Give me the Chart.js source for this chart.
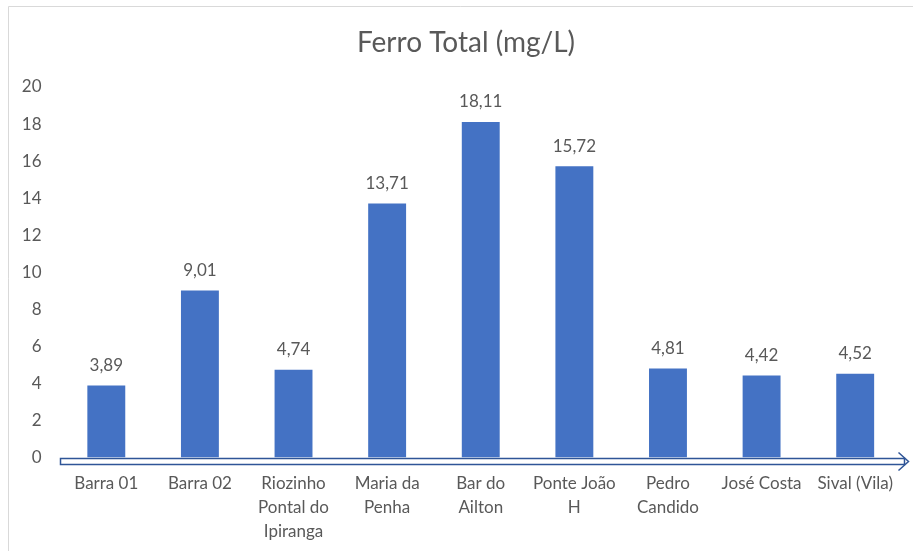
<!DOCTYPE html>
<html>
<head>
<meta charset="utf-8">
<script src="https://cdn.jsdelivr.net/npm/chart.js@4"></script>
<style>
  body { margin: 0; background: #fff; }
  canvas { display: block; }
</style>
</head>
<body>
<canvas id="ferroChart" width="913" height="551"></canvas>
<script>
const categories = [
  "Barra 01",
  "Barra 02",
  ["Riozinho", "Pontal do", "Ipiranga"],
  ["Maria da", "Penha"],
  ["Bar do", "Ailton"],
  ["Ponte João", "H"],
  ["Pedro", "Candido"],
  "José Costa",
  "Sival (Vila)"
];
const ferroValues = [3.89, 9.01, 4.74, 13.71, 18.11, 15.72, 4.81, 4.42, 4.52];
const yTicks = [0, 2, 4, 6, 8, 10, 12, 14, 16, 18, 20];
const chartTitle = "Ferro Total (mg/L)";

const textColor = "#595959";
const fontFamily = "Lato, 'Open Sans', sans-serif";

// white background, light frame and the title
const frame = {
  id: "frame",
  beforeDraw(chart) {
    const ctx = chart.ctx;
    ctx.save();
    ctx.fillStyle = "#fff";
    ctx.fillRect(0, 0, chart.width, chart.height);
    ctx.strokeStyle = "#d9d9d9";
    ctx.lineWidth = 1;
    ctx.beginPath();
    ctx.moveTo(8.5, chart.height);
    ctx.lineTo(8.5, 6.5);
    ctx.lineTo(chart.width, 6.5);
    ctx.stroke();
    ctx.fillStyle = textColor;
    ctx.font = "28px " + fontFamily;
    ctx.textAlign = "center";
    ctx.textBaseline = "middle";
    ctx.fillText(chartTitle, 466, 43);
    ctx.restore();
  }
};

// hollow arrow used as x axis
const axisArrow = {
  id: "axisArrow",
  beforeDatasetsDraw(chart) {
    const ctx = chart.ctx;
    const y0 = chart.scales.y.getPixelForValue(0);
    const x0 = 60.5;
    const tip = 908.5;
    const top = y0 + 1;
    const bot = y0 + 7;
    ctx.save();
    ctx.strokeStyle = "#2f5597";
    ctx.lineWidth = 1.5;
    ctx.fillStyle = "#fff";
    ctx.beginPath();
    ctx.moveTo(x0, top);
    ctx.lineTo(tip - 4, top);
    ctx.lineTo(tip - 4, bot);
    ctx.lineTo(x0, bot);
    ctx.closePath();
    ctx.fill();
    ctx.stroke();
    ctx.beginPath();
    ctx.moveTo(tip - 10, y0 - 5);
    ctx.lineTo(tip, (top + bot) / 2);
    ctx.lineTo(tip - 10, y0 + 13);
    ctx.stroke();
    ctx.restore();
  }
};

// value labels above bars, comma decimals
const valueLabels = {
  id: "valueLabels",
  afterDatasetsDraw(chart) {
    const ctx = chart.ctx;
    const meta = chart.getDatasetMeta(0);
    ctx.save();
    ctx.fillStyle = textColor;
    ctx.font = "17px " + fontFamily;
    ctx.textAlign = "center";
    ctx.textBaseline = "middle";
    meta.data.forEach((bar, i) => {
      const txt = ferroValues[i].toFixed(2).replace(".", ",");
      ctx.fillText(txt, bar.x, bar.y - 20);
    });
    ctx.restore();
  }
};

new Chart(document.getElementById("ferroChart"), {
  type: "bar",
  data: {
    labels: categories,
    datasets: [{
      label: "Ferro Total",
      data: ferroValues,
      backgroundColor: "#4472c4",
      barPercentage: 0.81,
      categoryPercentage: 0.5
    }]
  },
  options: {
    responsive: false,
    animation: false,
    layout: { padding: { left: 0, right: 11, top: 87, bottom: 0 } },
    plugins: {
      legend: { display: false },
      tooltip: { enabled: false },
      title: { display: false }
    },
    scales: {
      x: {
        grid: { display: false },
        border: { display: false },
        ticks: {
          color: textColor,
          font: { family: fontFamily, size: 17, lineHeight: 1.42 },
          padding: 6,
          maxRotation: 0,
          autoSkip: false
        },
        afterFit(scale) { scale.height = 93.5; }
      },
      y: {
        min: 0,
        max: 20,
        afterBuildTicks(scale) { scale.ticks = yTicks.map(v => ({ value: v })); },
        grid: { display: false, drawTicks: false },
        border: { display: false },
        ticks: {
          color: textColor,
          font: { family: fontFamily, size: 17 },
          padding: 18
        },
        afterFit(scale) { scale.width = 59.5; }
      }
    }
  },
  plugins: [frame, axisArrow, valueLabels]
});
</script>
</body>
</html>
